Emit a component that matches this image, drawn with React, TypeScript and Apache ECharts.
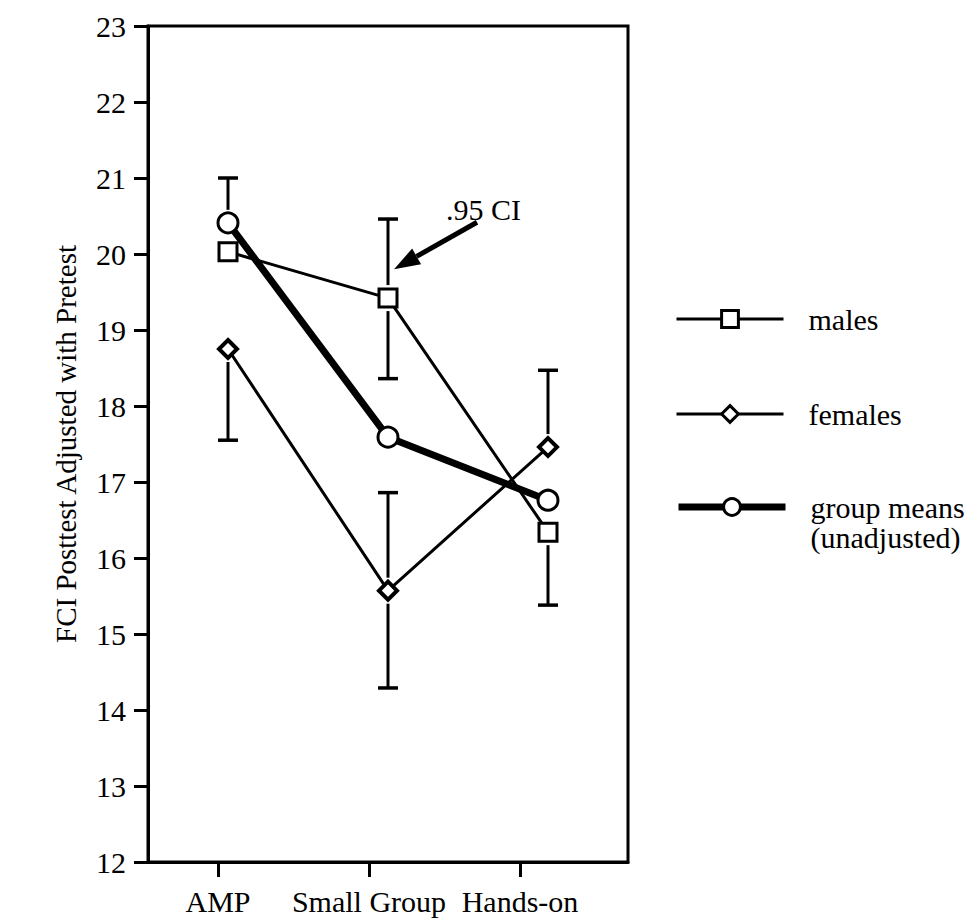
import React, { useEffect, useRef } from "react";
import * as echarts from "echarts";

const categories = ["AMP", "Small Group", "Hands-on"];
const males = [20.03, 19.42, 16.34];
const females = [18.75, 15.57, 17.46];
const groupMeans = [20.41, 17.59, 16.76];

// .95 CI half-bars: category, value of the marker the bar leaves from, end of the interval
const ciCategory = ["AMP", "AMP", "Small Group", "Small Group", "Small Group", "Small Group", "Hands-on", "Hands-on"];
const ciFrom = [20.41, 18.75, 19.42, 19.42, 15.57, 15.57, 17.46, 16.34];
const ciTo = [21.0, 17.55, 20.46, 18.36, 16.86, 14.29, 18.47, 15.38];

const yTicks = { min: 12, max: 23, interval: 1 };
const yTitle = "FCI Posttest Adjusted with Pretest";
const annotationText = ".95 CI";
const annotationTarget = ["Small Group", 19.8];

const FONT = "'Liberation Serif', 'Times New Roman', serif";

export default function App() {
  const ref = useRef<HTMLDivElement>(null);
  useEffect(() => {
    if (!ref.current) return;
    const chart = echarts.init(ref.current, null, { renderer: "svg" });
    const GAP = 13;
    const text = { fontFamily: FONT, fontSize: 30, color: "#000" };
    const legendCommon = {
      orient: "vertical", left: 670,
      itemWidth: 107, itemHeight: 21, itemGap: 65,
      textStyle: { ...text, padding: [0, 0, 0, 20], lineHeight: 30 },
      itemStyle: { color: "#fff", borderColor: "#000", borderWidth: 3 },
      selectedMode: false,
    };
    const option: any = {
      animation: false,
      backgroundColor: "#fff",
      textStyle: { fontFamily: FONT, color: "#000" },
      grid: [
        { left: 148, top: 26, width: 480, height: 836, show: true, borderColor: "#000", borderWidth: 3, backgroundColor: "transparent" },
        { left: 142.5, top: 26, width: 453, height: 836, show: false },
      ],
      xAxis: [
        {
          type: "category", gridIndex: 0, data: categories, boundaryGap: true,
          axisLine: { show: true, lineStyle: { color: "#000", width: 3 } },
          axisTick: { show: false }, axisLabel: { show: false }, splitLine: { show: false },
        },
        {
          type: "category", gridIndex: 1, data: categories, boundaryGap: true,
          axisLine: { show: false },
          axisTick: { show: true, alignWithLabel: true, length: 15, lineStyle: { color: "#000", width: 3 } },
          axisLabel: { ...text, margin: 24, interval: 0 },
          splitLine: { show: false },
        },
      ],
      yAxis: [
        {
          type: "value", gridIndex: 0, min: yTicks.min, max: yTicks.max, interval: yTicks.interval,
          axisLine: { show: true, lineStyle: { color: "#000", width: 3 } },
          axisTick: { show: true, inside: false, length: 14, lineStyle: { color: "#000", width: 3 } },
          axisLabel: { ...text, margin: 22 },
          splitLine: { show: false },
          name: yTitle, nameLocation: "middle", nameRotate: 90, nameGap: 68,
          nameTextStyle: { ...text, fontSize: 29 },
        },
        { type: "value", gridIndex: 1, min: yTicks.min, max: yTicks.max, show: false },
      ],
      legend: [
        {
          ...legendCommon, top: 299,
          data: [
            { name: "males", lineStyle: { width: 3 } },
            { name: "females", lineStyle: { width: 3 } },
          ],
        },
        {
          ...legendCommon, top: 457,
          data: [{ name: "group means", lineStyle: { width: 7 } }],
          formatter: () => "\ngroup means\n(unadjusted)",
        },
      ],
      series: [
        {
          type: "custom", name: "ci", xAxisIndex: 0, yAxisIndex: 0, z: 1,
          encode: { x: 0, y: [1, 2] },
          data: ciCategory.map((c, i) => [categories.indexOf(c), ciFrom[i], ciTo[i]]),
          renderItem: (params: any, api: any) => {
            const c = api.value(0);
            const pa = api.coord([c, api.value(1)]);
            const pe = api.coord([c, api.value(2)]);
            const dir = pe[1] < pa[1] ? -1 : 1;
            const sy = pa[1] + dir * GAP;
            return {
              type: "group",
              children: [
                { type: "line", shape: { x1: pa[0], y1: sy, x2: pe[0], y2: pe[1] }, style: { stroke: "#000", lineWidth: 3 } },
                { type: "line", shape: { x1: pe[0] - 10, y1: pe[1], x2: pe[0] + 10, y2: pe[1] }, style: { stroke: "#000", lineWidth: 3.5 } },
              ],
            };
          },
        },
        {
          type: "line", name: "males", data: males, z: 3,
          symbol: "rect", symbolSize: 18,
          lineStyle: { color: "#000", width: 3 },
          itemStyle: { color: "#fff", borderColor: "#000", borderWidth: 3 },
        },
        {
          type: "line", name: "females", data: females, z: 3,
          symbol: "diamond", symbolSize: 18,
          lineStyle: { color: "#000", width: 3 },
          itemStyle: { color: "#fff", borderColor: "#000", borderWidth: 4 },
        },
        {
          type: "line", name: "group means", data: groupMeans, z: 4,
          symbol: "circle", symbolSize: 20,
          lineStyle: { color: "#000", width: 7 },
          itemStyle: { color: "#fff", borderColor: "#000", borderWidth: 3 },
        },
      ],
    };
    chart.setOption(option);
    const tip = chart.convertToPixel({ gridIndex: 0 }, annotationTarget as any) as number[];
    if (tip && isFinite(tip[0])) {
      const tx = tip[0] + 6, ty = tip[1];
      const sx = tx + 83, sy = ty - 47;
      const ang = Math.atan2(sy - ty, sx - tx);
      const hl = 26, hw = 9;
      const bx = tx + Math.cos(ang) * hl, by = ty + Math.sin(ang) * hl;
      const nx = -Math.sin(ang) * hw, ny = Math.cos(ang) * hw;
      chart.setOption({
        graphic: [
          { type: "line", shape: { x1: sx, y1: sy, x2: bx, y2: by }, style: { stroke: "#000", lineWidth: 5 }, z: 10 },
          { type: "polygon", shape: { points: [[tx, ty], [bx + nx, by + ny], [bx - nx, by - ny]] }, style: { fill: "#000" }, z: 10 },
          { type: "text", x: tx + 52, y: ty - 60, style: { text: annotationText, font: `30px ${FONT}`, fill: "#000", verticalAlign: "middle" }, z: 10 },
        ],
      });
    }
    return () => chart.dispose();
  }, []);
  return <div ref={ref} style={{ position: "fixed", left: 0, top: 0, width: 980, height: 923 }} />;
}
